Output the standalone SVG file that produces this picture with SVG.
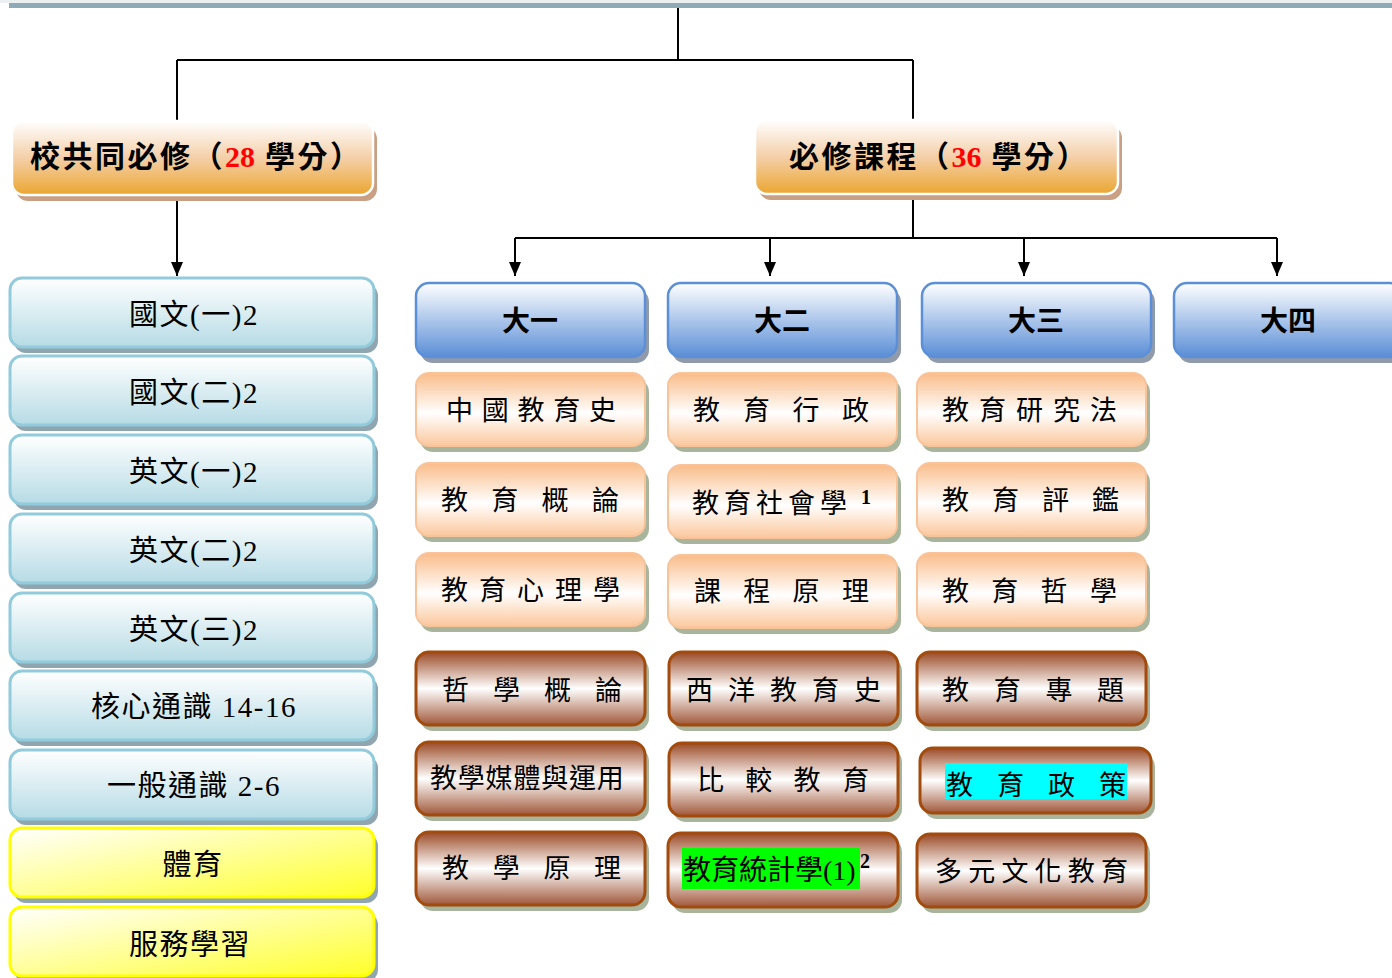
<svg xmlns="http://www.w3.org/2000/svg" width="1392" height="978" viewBox="0 0 1392 978">
<defs>
<linearGradient id="gHead" x1="0" y1="0" x2="0" y2="1"><stop offset="0" stop-color="#ffffff"/><stop offset="0.5" stop-color="#f4cfa8"/><stop offset="1" stop-color="#eba630"/></linearGradient>
<linearGradient id="gBlue" x1="0" y1="0" x2="0" y2="1"><stop offset="0" stop-color="#ffffff"/><stop offset="1" stop-color="#b6dbe5"/></linearGradient>
<linearGradient id="gYel" x1="0" y1="0" x2="1" y2="1"><stop offset="0" stop-color="#ffffff"/><stop offset="1" stop-color="#ffff2a"/></linearGradient>
<linearGradient id="gYear" x1="0" y1="0" x2="0" y2="1"><stop offset="0" stop-color="#ffffff"/><stop offset="1" stop-color="#5a8ed6"/></linearGradient>
<linearGradient id="gOr" x1="0" y1="0" x2="0" y2="1"><stop offset="0" stop-color="#f9bc88"/><stop offset="0.55" stop-color="#ffffff"/><stop offset="1" stop-color="#fbc79c"/></linearGradient>
<linearGradient id="gBr" x1="0" y1="0" x2="0" y2="1"><stop offset="0" stop-color="#9b4a26"/><stop offset="0.5" stop-color="#ffffff"/><stop offset="1" stop-color="#a0583a"/></linearGradient>
<marker id="arr" markerUnits="userSpaceOnUse" markerWidth="14" markerHeight="12" viewBox="0 0 14 12" refX="14" refY="6" orient="auto"><path d="M0,0 L14,6 L0,12 z" fill="#000"/></marker>
<style>
.head{fill:url(#gHead);stroke:#ffffff;stroke-width:2.5}
.hsh{fill:#c9a083}
.blue{fill:url(#gBlue);stroke:#92cbdb;stroke-width:3}
.yel{fill:url(#gYel);stroke:#ffff00;stroke-width:3}
.lsh{fill:#8fa6b0}
.year{fill:url(#gYear);stroke:#5b8fd8;stroke-width:2.5}
.ysh{fill:#8f9aaa}
.or{fill:url(#gOr);stroke:#f9c39a;stroke-width:2}
.br{fill:url(#gBr);stroke:#a24b0c;stroke-width:3}
.csh{fill:#a8b59c}
.t{font-family:"Liberation Serif","Noto Sans CJK TC",serif;fill:#000}
.ht{font-size:30px;font-weight:bold;letter-spacing:2.5px}
.num{fill:#ff0000;letter-spacing:0}
.lt{font-size:29px;text-anchor:middle;letter-spacing:1.5px}
.yt{font-size:28px;font-weight:bold;text-anchor:middle}
.ct{font-size:27px}
.sup{font-size:20px;font-weight:bold}
.ln{fill:none;stroke:#000;stroke-width:2}
</style>
</defs>
<rect x="0" y="0" width="1392" height="3" fill="#eceff0"/>
<rect x="9" y="3" width="1383" height="5" fill="#8eaab6"/>
<g id="connectors">
<path class="ln" d="M678,8 V60 M177,60 H913 M177,60 V122 M913,60 V121"/>
<path class="ln" d="M177,196 V276" marker-end="url(#arr)"/>
<path class="ln" d="M913,195 V238 M515,238 H1277"/>
<path class="ln" d="M515,238 V276" marker-end="url(#arr)"/>
<path class="ln" d="M770,238 V276" marker-end="url(#arr)"/>
<path class="ln" d="M1024,238 V276" marker-end="url(#arr)"/>
<path class="ln" d="M1277,238 V276" marker-end="url(#arr)"/>
</g>
<g id="h1"><rect class="hsh" x="16" y="127" width="361" height="74" rx="12"/><rect class="head" x="12" y="121" width="361" height="74" rx="12"/>
<text class="t ht" x="30" y="167">校共同必修（<tspan class="num">28</tspan> 學分）</text></g>
<g id="h2"><rect class="hsh" x="759" y="126" width="363" height="74" rx="12"/><rect class="head" x="755" y="120" width="363" height="74" rx="12"/>
<text class="t ht" x="789" y="167">必修課程（<tspan class="num">36</tspan> 學分）</text></g>

<g id="l1"><rect class="lsh" x="14" y="284" width="364" height="69" rx="12"/><rect class="blue" x="10" y="278" width="364" height="69" rx="12"/><text class="t lt" x="194" y="325">國文(一)2</text></g>
<g id="l2"><rect class="lsh" x="14" y="362" width="364" height="69" rx="12"/><rect class="blue" x="10" y="356" width="364" height="69" rx="12"/><text class="t lt" x="194" y="403">國文(二)2</text></g>
<g id="l3"><rect class="lsh" x="14" y="441" width="364" height="69" rx="12"/><rect class="blue" x="10" y="435" width="364" height="69" rx="12"/><text class="t lt" x="194" y="482">英文(一)2</text></g>
<g id="l4"><rect class="lsh" x="14" y="520" width="364" height="69" rx="12"/><rect class="blue" x="10" y="514" width="364" height="69" rx="12"/><text class="t lt" x="194" y="561">英文(二)2</text></g>
<g id="l5"><rect class="lsh" x="14" y="599" width="364" height="69" rx="12"/><rect class="blue" x="10" y="593" width="364" height="69" rx="12"/><text class="t lt" x="194" y="640">英文(三)2</text></g>
<g id="l6"><rect class="lsh" x="14" y="677" width="364" height="69" rx="12"/><rect class="blue" x="10" y="671" width="364" height="69" rx="12"/><text class="t lt" x="194" y="717">核心通識 14-16</text></g>
<g id="l7"><rect class="lsh" x="14" y="756" width="364" height="69" rx="12"/><rect class="blue" x="10" y="750" width="364" height="69" rx="12"/><text class="t lt" x="194" y="796">一般通識 2-6</text></g>
<g id="l8"><rect class="lsh" x="14" y="834" width="364" height="69" rx="12"/><rect class="yel" x="10" y="828" width="364" height="69" rx="12"/><text class="t lt" x="193" y="875">體育</text></g>
<g id="l9"><rect class="lsh" x="14" y="913" width="364" height="69" rx="12"/><rect class="yel" x="10" y="907" width="364" height="69" rx="12"/><text class="t lt" x="190" y="955">服務學習</text></g>

<g id="y1"><rect class="ysh" x="420" y="289" width="229" height="74" rx="13"/><rect class="year" x="416" y="283" width="229" height="74" rx="13"/><text class="t yt" x="530" y="331">大一</text></g>
<g id="y2"><rect class="ysh" x="672" y="289" width="229" height="74" rx="13"/><rect class="year" x="668" y="283" width="229" height="74" rx="13"/><text class="t yt" x="782" y="331">大二</text></g>
<g id="y3"><rect class="ysh" x="926" y="289" width="229" height="74" rx="13"/><rect class="year" x="922" y="283" width="229" height="74" rx="13"/><text class="t yt" x="1036" y="331">大三</text></g>
<g id="y4"><rect class="ysh" x="1178" y="289" width="229" height="74" rx="13"/><rect class="year" x="1174" y="283" width="229" height="74" rx="13"/><text class="t yt" x="1288" y="331">大四</text></g>

<g id="c11"><rect class="csh" x="420" y="379" width="229" height="73" rx="13"/><rect class="or" x="416" y="373" width="229" height="73" rx="13"/><text class="t ct" x="446 481.75 517.5 553.25 589" y="420">中國教育史</text></g>
<g id="c21"><rect class="csh" x="672" y="379" width="229" height="73" rx="13"/><rect class="or" x="668" y="373" width="229" height="73" rx="13"/><text class="t ct" x="693 742.7 792.4 842.1" y="420">教育行政</text></g>
<g id="c31"><rect class="csh" x="921" y="379" width="229" height="73" rx="13"/><rect class="or" x="917" y="373" width="229" height="73" rx="13"/><text class="t ct" x="942 979 1016 1053 1090" y="420">教育研究法</text></g>

<g id="c12"><rect class="csh" x="420" y="469" width="229" height="73" rx="13"/><rect class="or" x="416" y="463" width="229" height="73" rx="13"/><text class="t ct" x="441 491.3 541.6 591.9" y="510">教育概論</text></g>
<g id="c22"><rect class="csh" x="672" y="471" width="229" height="73" rx="13"/><rect class="or" x="668" y="465" width="229" height="73" rx="13"/><text class="t ct" x="692 724 756 788 820" y="513">教育社會學</text><text class="t sup" x="861" y="504">1</text></g>
<g id="c32"><rect class="csh" x="921" y="469" width="229" height="73" rx="13"/><rect class="or" x="917" y="463" width="229" height="73" rx="13"/><text class="t ct" x="942 992 1042 1092" y="510">教育評鑑</text></g>

<g id="c13"><rect class="csh" x="420" y="559" width="229" height="73" rx="13"/><rect class="or" x="416" y="553" width="229" height="73" rx="13"/><text class="t ct" x="441 479 517 555 593" y="600">教育心理學</text></g>
<g id="c23"><rect class="csh" x="672" y="561" width="229" height="73" rx="13"/><rect class="or" x="668" y="555" width="229" height="73" rx="13"/><text class="t ct" x="694 743.3 792.6 841.9" y="601">課程原理</text></g>
<g id="c33"><rect class="csh" x="921" y="559" width="229" height="73" rx="13"/><rect class="or" x="917" y="553" width="229" height="73" rx="13"/><text class="t ct" x="942 991.3 1040.6 1089.9" y="601">教育哲學</text></g>

<g id="c14"><rect class="csh" x="420" y="658" width="229" height="73" rx="13"/><rect class="br" x="416" y="652" width="229" height="73" rx="13"/><text class="t ct" x="442 493 544 595" y="700">哲學概論</text></g>
<g id="c24"><rect class="csh" x="673" y="658" width="229" height="73" rx="13"/><rect class="br" x="669" y="652" width="229" height="73" rx="13"/><text class="t ct" x="686 728 770 812 854" y="700">西洋教育史</text></g>
<g id="c34"><rect class="csh" x="921" y="658" width="229" height="73" rx="13"/><rect class="br" x="917" y="652" width="229" height="73" rx="13"/><text class="t ct" x="942 993.7 1045.4 1097.1" y="700">教育專題</text></g>

<g id="c15"><rect class="csh" x="420" y="748" width="229" height="73" rx="13"/><rect class="br" x="416" y="742" width="229" height="73" rx="13"/><text class="t ct" x="430 457.8 485.6 513.4 541.2 569 596.8" y="788">教學媒體與運用</text></g>
<g id="c25"><rect class="csh" x="673" y="749" width="229" height="73" rx="13"/><rect class="br" x="669" y="743" width="229" height="73" rx="13"/><text class="t ct" x="697 745.3 793.6 841.9" y="790">比較教育</text></g>
<g id="c35"><rect class="csh" x="924" y="754" width="231" height="65" rx="13"/><rect class="br" x="920" y="748" width="231" height="65" rx="13"/><rect x="945" y="763" width="182" height="36" fill="#00ffff"/><text class="t ct" x="946 997 1048 1099" y="795">教育政策</text></g>

<g id="c16"><rect class="csh" x="420" y="838" width="229" height="73" rx="13"/><rect class="br" x="416" y="832" width="229" height="73" rx="13"/><text class="t ct" x="442 492.7 543.4 594.1" y="878">教學原理</text></g>
<g id="c26"><rect class="csh" x="672" y="839" width="230" height="74" rx="13"/><rect class="br" x="668" y="833" width="230" height="74" rx="13"/><rect x="682" y="848" width="178" height="41" fill="#00ff00"/><text class="t" font-size="28" x="683" y="880">教育統計學(1)</text><text class="t sup" x="860" y="868">2</text></g>
<g id="c36"><rect class="csh" x="921" y="840" width="229" height="73" rx="13"/><rect class="br" x="917" y="834" width="229" height="73" rx="13"/><text class="t ct" x="935 968.2 1001.4 1034.6 1067.8 1101" y="881">多元文化教育</text></g>
</svg>
